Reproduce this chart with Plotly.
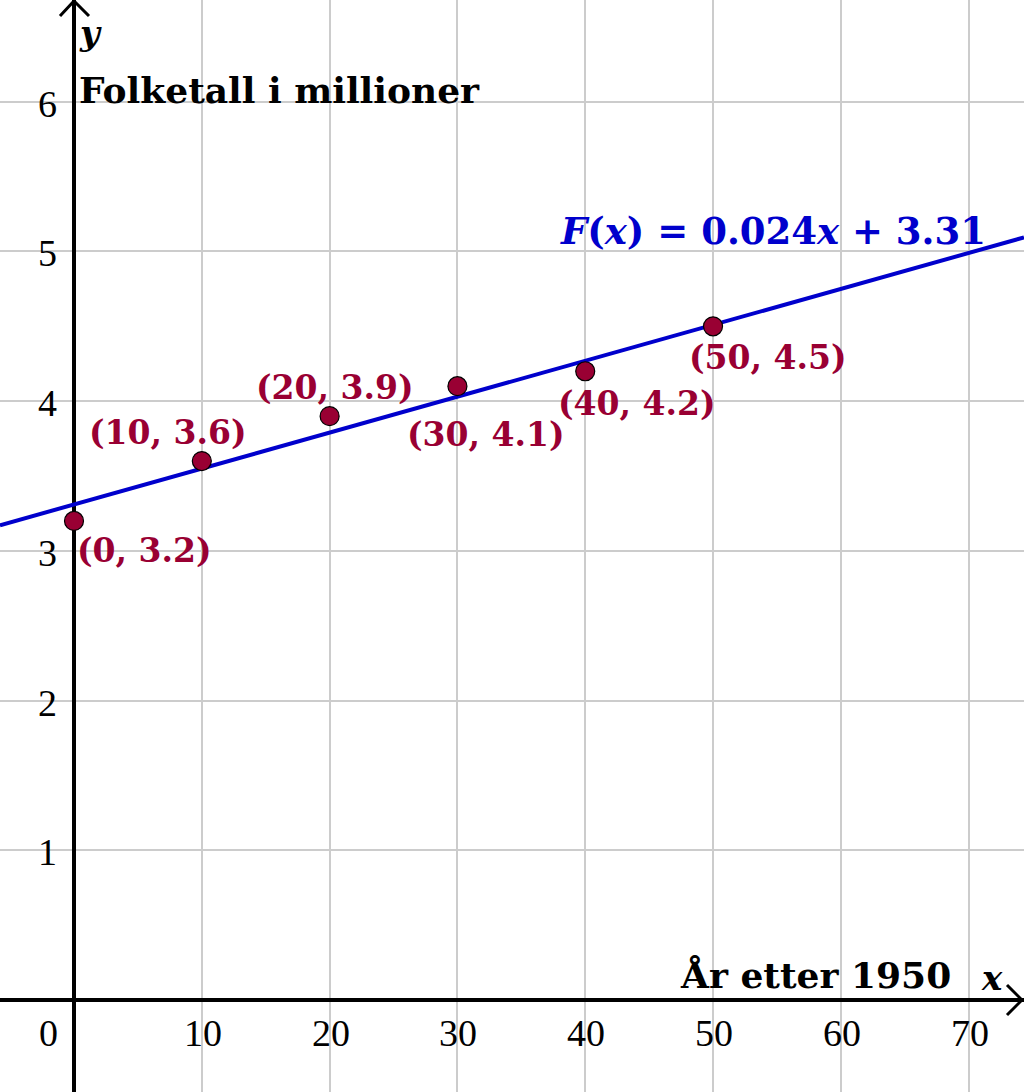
import plotly.graph_objects as go

# ---- data ----
years_after_1950 = [0, 10, 20, 30, 40, 50]
population_mill = [3.2, 3.6, 3.9, 4.1, 4.2, 4.5]
slope = 0.024
intercept = 3.31
x_ticks = [0, 10, 20, 30, 40, 50, 60, 70]
x_tick_labels = ["0", "10", "20", "30", "40", "50", "60", "70"]
y_ticks = [1, 2, 3, 4, 5, 6]
y_tick_labels = ["1", "2", "3", "4", "5", "6"]

# ---- layout constants ----
W, H = 1024, 1092
XR = [-5.79, 74.33]
YR = [-0.615, 6.68]
POINT_COLOR = "#990033"
LINE_COLOR = "#0000cc"
BOLD_FONT = "DejaVu Serif"
TICK_FONT = "Liberation Serif"

# label offsets (pixels) for the point labels
label_dx = [70, -34, 5, 29, 52, 55]
label_dy = [-30, 29, 29, -48, -32, -31]


def px_to_paper(px, py):
    return px / W, 1 - py / H


fig = go.Figure()

# regression line across the visible range
line_x = [XR[0], XR[1]]
line_y = [slope * v + intercept for v in line_x]
fig.add_trace(go.Scatter(x=line_x, y=line_y, mode="lines",
                         line=dict(color=LINE_COLOR, width=4),
                         hoverinfo="skip", showlegend=False))

fig.add_trace(go.Scatter(x=years_after_1950, y=population_mill, mode="markers",
                         marker=dict(size=19, color=POINT_COLOR,
                                     line=dict(color="black", width=1.2)),
                         showlegend=False))

ann = []
for xv, yv, dx, dy in zip(years_after_1950, population_mill, label_dx, label_dy):
    ann.append(dict(x=xv, y=yv, xref="x", yref="y", xshift=dx, yshift=dy,
                    xanchor="center", yanchor="middle",
                    text=f"<b>({xv}, {yv})</b>", showarrow=False,
                    font=dict(family=BOLD_FONT, size=33, color=POINT_COLOR)))

for xv, lab in zip(x_ticks, x_tick_labels):
    ann.append(dict(x=xv, y=0, xref="x", yref="y",
                    xshift=(-26 if xv == 0 else 1), yshift=-33,
                    xanchor="center", yanchor="middle",
                    text=lab, showarrow=False,
                    font=dict(family=TICK_FONT, size=38, color="black")))

for yv, lab in zip(y_ticks, y_tick_labels):
    ann.append(dict(x=0, y=yv, xref="x", yref="y", xshift=-27, yshift=-2,
                    xanchor="center", yanchor="middle",
                    text=lab, showarrow=False,
                    font=dict(family=TICK_FONT, size=38, color="black")))


def paper_label(px, py, text, size, color="black", xanchor="center"):
    x, y = px_to_paper(px, py)
    ann.append(dict(x=x, y=y, xref="paper", yref="paper",
                    xanchor=xanchor, yanchor="middle",
                    text=text, showarrow=False,
                    font=dict(family=BOLD_FONT, size=size, color=color)))


# function label
paper_label(773, 231, "<b><i>F</i>(<i>x</i>) = 0.024<i>x</i> + 3.31</b>", 37, LINE_COLOR)
# axis titles
paper_label(77, 90, "<b>Folketall i millioner</b>", 36, xanchor="left")
paper_label(953, 975, "<b>År etter 1950</b>", 36, xanchor="right")
paper_label(992, 978, "<b><i>x</i></b>", 34)
paper_label(90, 33, "<b><i>y</i></b>", 34)

# arrow heads
shapes = []
a = px_to_paper(60, 16); b = px_to_paper(74, 1); c = px_to_paper(89, 16)
shapes.append(dict(type="path", xref="paper", yref="paper",
                   path=f"M {a[0]} {a[1]} L {b[0]} {b[1]} L {c[0]} {c[1]}",
                   line=dict(color="black", width=3)))
a = px_to_paper(1007, 985); b = px_to_paper(1022, 1000); c = px_to_paper(1007, 1015)
shapes.append(dict(type="path", xref="paper", yref="paper",
                   path=f"M {a[0]} {a[1]} L {b[0]} {b[1]} L {c[0]} {c[1]}",
                   line=dict(color="black", width=3)))

fig.update_layout(
    width=W, height=H,
    margin=dict(l=0, r=0, t=0, b=0),
    paper_bgcolor="white", plot_bgcolor="white",
    annotations=ann, shapes=shapes,
    xaxis=dict(range=XR, dtick=10, tick0=0, showgrid=True,
               gridcolor="#cccccc", gridwidth=1.5,
               zeroline=True, zerolinecolor="black", zerolinewidth=4,
               showticklabels=False, ticks="", showline=False, fixedrange=True),
    yaxis=dict(range=YR, dtick=1, tick0=0, showgrid=True,
               gridcolor="#cccccc", gridwidth=1.5,
               zeroline=True, zerolinecolor="black", zerolinewidth=4,
               showticklabels=False, ticks="", showline=False, fixedrange=True),
    showlegend=False,
)

fig.write_html("out.html",
               config={"displayModeBar": False},
               post_script="document.body.style.margin='0';"
                           "document.body.style.overflow='hidden';")
